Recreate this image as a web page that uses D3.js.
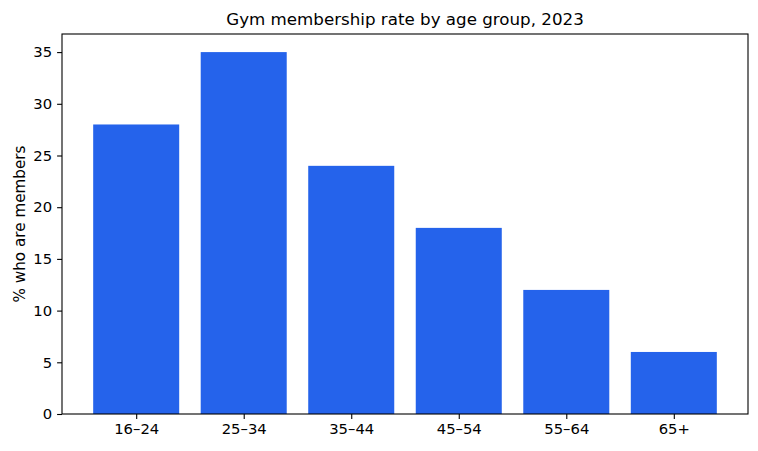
<!DOCTYPE html>
<meta charset="utf-8">
<head>
  <title>Gym membership rate by age group, 2023</title>
</head>
<style>
body { margin: 0; background: #fff; }
text { font-family: "DejaVu Sans", sans-serif; fill: #000; }
.tick line { stroke: #000; stroke-width: 1.1px; }
</style>
<body>
<script src="https://d3js.org/d3.v7.min.js"></script>
<script>
var ageGroups = ["16–24", "25–34", "35–44", "45–54", "55–64", "65+"]
var memberRate = [28, 35, 24, 18, 12, 6]
var yTicks = [0, 5, 10, 15, 20, 25, 30, 35]

var width = 758,
  height = 451,
  margin = {top: 34, right: 10, bottom: 37, left: 62}

var svg = d3.select("body").append("svg")
    .attr("width", width)
    .attr("height", height)

var plotW = width - margin.left - margin.right,
  plotH = height - margin.top - margin.bottom

var g = svg.append("g")
    .attr("transform", "translate(" + margin.left + "," + margin.top + ")")

// matplotlib style: bars 0.8 wide, 5% margins
var x = d3.scaleLinear()
    .domain([-0.69, ageGroups.length - 1 + 0.69])
    .range([0, plotW])

var y = d3.scaleLinear()
    .domain([0, d3.max(memberRate) * 1.05])
    .range([plotH, 0])

g.selectAll(".bar")
    .data(memberRate)
  .enter().append("rect")
    .attr("class", "bar")
    .attr("x", function(d, i) { return x(i - 0.4) })
    .attr("width", function(d, i) { return x(i + 0.4) - x(i - 0.4) })
    .attr("y", function(d) { return y(d) })
    .attr("height", function(d) { return y(0) - y(d) })
    .style("fill", "#2563eb")

var xAxis = d3.axisBottom(x)
    .tickValues(d3.range(ageGroups.length))
    .tickFormat(function(i) { return ageGroups[i] })
    .tickSize(4.9)
    .tickPadding(4.9)
    .tickSizeOuter(0)

var yAxis = d3.axisLeft(y)
    .tickValues(yTicks)
    .tickSize(4.9)
    .tickPadding(4.9)
    .tickSizeOuter(0)

g.append("g")
    .attr("transform", "translate(0," + plotH + ")")
    .call(xAxis)
    .call(function(a) { a.select(".domain").remove() })

g.append("g")
    .call(yAxis)
    .call(function(a) { a.select(".domain").remove() })

g.selectAll(".tick text")
    .style("font-size", "14.8px")
    .style("font-family", "DejaVu Sans, sans-serif")
    .style("fill", "#000")

// frame (all four spines)
g.append("rect")
    .attr("width", plotW)
    .attr("height", plotH)
    .style("fill", "none")
    .style("stroke", "#000")
    .style("stroke-width", 1.1)

svg.append("text")
    .attr("x", margin.left + plotW / 2)
    .attr("y", 25)
    .attr("text-anchor", "middle")
    .style("font-size", "16.7px")
    .text("Gym membership rate by age group, 2023")

svg.append("text")
    .attr("transform", "translate(25," + (margin.top + plotH / 2) + ") rotate(-90)")
    .attr("text-anchor", "middle")
    .style("font-size", "15.2px")
    .text("% who are members")
</script>
</body>
